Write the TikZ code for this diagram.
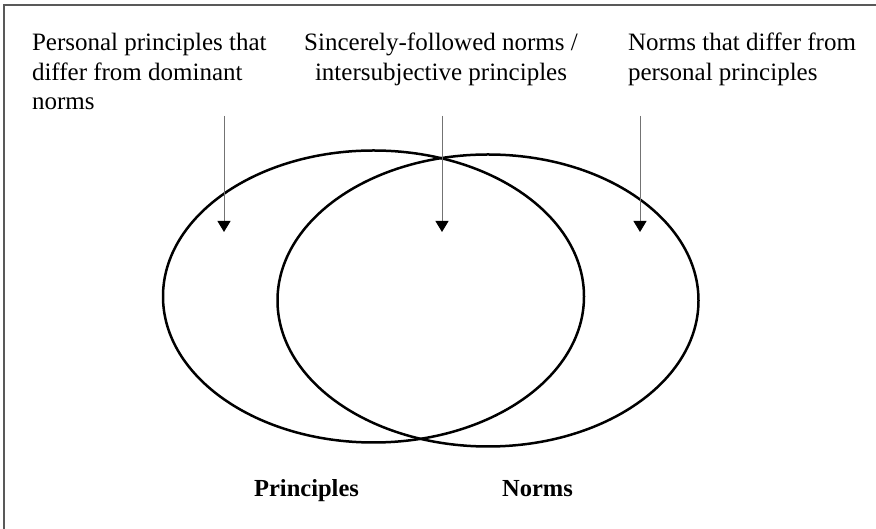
\documentclass[tikz,border=0pt]{standalone}
\usepackage{fontspec}
\setmainfont{Liberation Serif}
\usetikzlibrary{shapes.geometric,arrows.meta}
\begin{document}
\begin{tikzpicture}[x=1pt,y=1pt,
  txt/.style={inner sep=0pt,outer sep=0pt,font=\fontsize{25}{29.7}\selectfont},
  lbl/.style={inner sep=0pt,font=\fontsize{24.5}{29.7}\selectfont\bfseries},
  venn/.style={ellipse,draw=black,line width=2.5pt,inner sep=0pt,minimum width=421pt,minimum height=292pt},
  pointer/.style={draw=black!55,line width=1pt,-{Triangle[width=13pt,length=11pt,color=black]}},
  frameline/.style={draw=black!65,line width=2pt}]
\useasboundingbox (0,0) rectangle (876,529);
\fill[white] (0,0) rectangle (876,529);
% frame (top and left edges visible)
\coordinate (fbl) at (4,0);
\coordinate (ftl) at (4,524);
\coordinate (ftr) at (876,524);
\draw[frameline] (fbl) -- (ftl) -- (ftr);
% ellipses
\node[venn] (P) at (373.5,232.5) {};
\node[venn] (N) at (488,228.5) {};
% texts
\node[txt,anchor=north west,align=left] (t1) at (32,496) {Personal principles that\\differ from dominant\\norms};
\node[txt,anchor=north,align=center] (t2) at (441,496) {Sincerely-followed norms /\\intersubjective principles};
\node[txt,anchor=north west,align=left] (t3) at (628,496) {Norms that differ from\\personal principles};
% arrows
\coordinate (a1s) at (224,413); \coordinate (a1e) at (224,297);
\coordinate (a2s) at (442,413); \coordinate (a2e) at (442,297);
\coordinate (a3s) at (640,413); \coordinate (a3e) at (640,297);
\draw[pointer] (a1s) -- (a1e);
\draw[pointer] (a2s) -- (a2e);
\draw[pointer] (a3s) -- (a3e);
% labels
\node[lbl,anchor=base] (lp) at (306.5,32) {Principles};
\node[lbl,anchor=base] (ln) at (537.5,32) {Norms};
\end{tikzpicture}
\end{document}
